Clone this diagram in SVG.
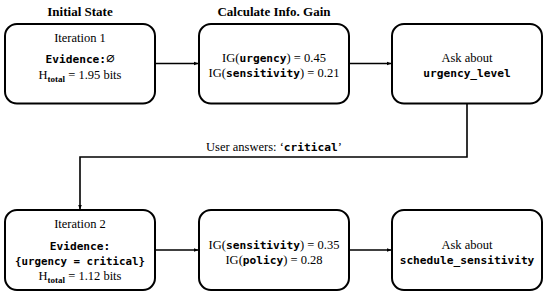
<svg xmlns="http://www.w3.org/2000/svg" width="550" height="297" viewBox="0 0 550 297">
<defs>
<marker id="ah" viewBox="0 0 10 10" refX="9" refY="5" markerWidth="5" markerHeight="5" orient="auto" markerUnits="userSpaceOnUse">
<path d="M0,1 L10,5 L0,9 z" fill="#000"/>
</marker>
<style>
.box{fill:#fff;stroke:#000;stroke-width:2}
.t{font-family:"Liberation Serif",serif;font-size:12.5px;fill:#000;text-anchor:middle}
.ttl{font-family:"Liberation Serif",serif;font-size:13px;font-weight:bold;fill:#000;text-anchor:middle}
.m{font-family:"DejaVu Sans Mono",monospace;font-size:11.2px;font-weight:bold}
.sub{font-size:9px;font-weight:bold}
.edge{fill:none;stroke:#000;stroke-width:1.6}
</style>
</defs>
<rect width="550" height="297" fill="#fff"/>
<g id="titles">
<text class="ttl" x="80" y="16">Initial State</text>
<text class="ttl" x="274" y="16">Calculate Info. Gain</text>
</g>
<g id="connectors">
<line class="edge" x1="155" y1="63.5" x2="198" y2="63.5" marker-end="url(#ah)"/>
<line class="edge" x1="349" y1="63.5" x2="391" y2="63.5" marker-end="url(#ah)"/>
<polyline class="edge" points="467,103.5 467,157 80,157 80,209" marker-end="url(#ah)"/>
<line class="edge" x1="155" y1="250" x2="198" y2="250" marker-end="url(#ah)"/>
<line class="edge" x1="349" y1="250" x2="391" y2="250" marker-end="url(#ah)"/>
<text class="t" x="274" y="151">User answers: ‘<tspan class="m">critical</tspan>’</text>
</g>
<g id="n1">
<rect class="box" x="5" y="24" width="150" height="79.5" rx="12"/>
<text class="t" x="80" y="42">Iteration 1</text>
<text class="t" x="80" y="63"><tspan class="m">Evidence:<tspan style="font-size:14px;font-weight:normal">∅</tspan></tspan></text>
<text class="t" x="80" y="79">H<tspan class="sub" dy="3">total</tspan><tspan dy="-3"> = 1.95 bits</tspan></text>
</g>
<g id="n2">
<rect class="box" x="199" y="24" width="150" height="79.5" rx="12"/>
<text class="t" x="274" y="62">IG(<tspan class="m">urgency</tspan>) = 0.45</text>
<text class="t" x="274" y="77">IG(<tspan class="m">sensitivity</tspan>) = 0.21</text>
</g>
<g id="n3">
<rect class="box" x="392" y="24" width="150" height="79.5" rx="12"/>
<text class="t" x="467" y="62">Ask about</text>
<text class="t" x="467" y="77"><tspan class="m">urgency_level</tspan></text>
</g>
<g id="n4">
<rect class="box" x="5" y="210" width="150" height="80" rx="12"/>
<text class="t" x="80" y="228">Iteration 2</text>
<text class="t" x="80" y="250"><tspan class="m">Evidence:</tspan></text>
<text class="t" x="80" y="265"><tspan class="m" style="font-size:10.8px">{urgency = critical}</tspan></text>
<text class="t" x="80" y="280">H<tspan class="sub" dy="3">total</tspan><tspan dy="-3"> = 1.12 bits</tspan></text>
</g>
<g id="n5">
<rect class="box" x="199" y="210" width="150" height="80" rx="12"/>
<text class="t" x="274" y="249">IG(<tspan class="m">sensitivity</tspan>) = 0.35</text>
<text class="t" x="274" y="264">IG(<tspan class="m">policy</tspan>) = 0.28</text>
</g>
<g id="n6">
<rect class="box" x="392" y="210" width="150" height="80" rx="12"/>
<text class="t" x="467" y="249">Ask about</text>
<text class="t" x="467" y="264"><tspan class="m">schedule_sensitivity</tspan></text>
</g>
</svg>
